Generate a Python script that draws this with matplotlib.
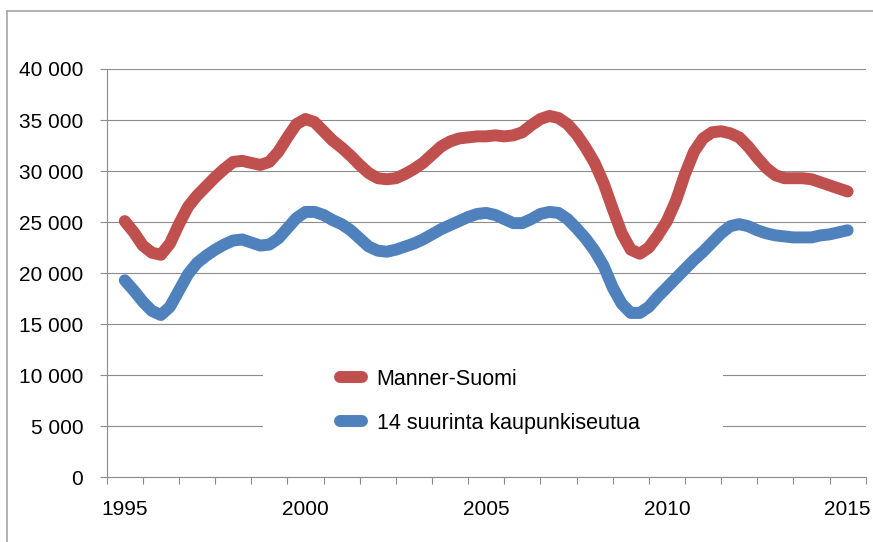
import numpy as np
import matplotlib
matplotlib.use("Agg")
import matplotlib.pyplot as plt
from matplotlib.lines import Line2D
from matplotlib.patches import Rectangle

plt.rcParams['font.family'] = ['Liberation Sans', 'DejaVu Sans']

# quarterly values 1995Q1 .. 2015Q1
quarters = 1995 + np.arange(81) / 4

manner_suomi = [
    25100, 24000, 22700, 22000, 21800, 22900, 24800, 26500,
    27600, 28500, 29400, 30200, 30900, 31000, 30800, 30600,
    30900, 31900, 33300, 34600, 35100, 34800, 33900, 33000,
    32300, 31500, 30600, 29800, 29300, 29200, 29300, 29700,
    30200, 30800, 31600, 32400, 32900, 33200, 33300, 33400,
    33400, 33500, 33400, 33500, 33800, 34500, 35100, 35400,
    35200, 34600, 33600, 32300, 30800, 28800, 26300, 23900,
    22300, 21900, 22500, 23700, 25100, 27100, 29700, 31900,
    33200, 33800, 33900, 33700, 33300, 32400, 31300, 30300,
    29600, 29300, 29300, 29300, 29200, 28900, 28600, 28300,
    28000,
]

kaupunkiseudut = [
    19300, 18300, 17200, 16300, 15900, 16700, 18300, 19900,
    21000, 21700, 22300, 22800, 23200, 23300, 23000, 22700,
    22800, 23400, 24400, 25400, 26000, 26000, 25700, 25200,
    24800, 24200, 23400, 22600, 22200, 22100, 22300, 22600,
    22900, 23300, 23800, 24300, 24700, 25100, 25500, 25800,
    25900, 25700, 25300, 24900, 24900, 25300, 25800, 26000,
    25900, 25300, 24400, 23400, 22200, 20700, 18600, 17000,
    16100, 16100, 16700, 17700, 18600, 19500, 20400, 21300,
    22100, 23000, 23900, 24600, 24800, 24600, 24200, 23900,
    23700, 23600, 23500, 23500, 23500, 23700, 23800, 24000,
    24200,
]

series_names = ['Manner-Suomi', '14 suurinta kaupunkiseutua']
series_colors = ['#C0504D', '#4F81BD']

year_labels = [1995, 2000, 2005, 2010, 2015]
y_ticks = [0, 5000, 10000, 15000, 20000, 25000, 30000, 35000, 40000]
y_tick_labels = ['0', '5 000', '10 000', '15 000', '20 000', '25 000',
                 '30 000', '35 000', '40 000']

W, H = 873, 542
fig = plt.figure(figsize=(W / 100, H / 100), dpi=100)
ax = fig.add_axes([106.7 / W, 1 - 477.3 / H, 759 / W, 408.3 / H])

grid_col = '#8C8C8C'

for vals, name, col in zip([manner_suomi, kaupunkiseudut], series_names, series_colors):
    ax.plot(quarters, vals, color=col, lw=8.6, label=name,
            solid_capstyle='round', solid_joinstyle='round', zorder=3)

ax.set_xlim(1994.5, 2015.5)
ax.set_ylim(0, 40000)

ax.set_yticks(y_ticks)
ax.set_yticklabels(y_tick_labels)
ax.yaxis.grid(True, color=grid_col, lw=0.8)
ax.set_axisbelow(True)

# tick marks between the years, labels centred on the years
ax.set_xticks(np.arange(1994.5, 2016, 1.0))
ax.set_xticklabels([])
ax.set_xticks(year_labels, minor=True)
ax.set_xticklabels([str(y) for y in year_labels], minor=True)

ax.tick_params(axis='y', length=6.7 * 0.72, width=0.8, color=grid_col,
               pad=12, labelsize=15)
ax.tick_params(axis='x', which='major', length=7 * 0.72, width=0.8,
               color=grid_col)
ax.tick_params(axis='x', which='minor', length=0, pad=16, labelsize=15)

for s in ['top', 'right']:
    ax.spines[s].set_visible(False)
for s in ['left', 'bottom']:
    ax.spines[s].set_color(grid_col)
    ax.spines[s].set_linewidth(0.8)

# white legend area that hides the gridlines
ax.add_patch(Rectangle((0.206, 0.055), 0.606, 0.269, transform=ax.transAxes,
                       facecolor='white', edgecolor='none', zorder=2))

ax.legend(loc='upper left', bbox_to_anchor=(340 / W, 1 - 369 / H),
          bbox_transform=fig.transFigure, frameon=False, fontsize=15.5,
          handlelength=1.0, handletextpad=0.7, labelspacing=1.05,
          borderpad=0, borderaxespad=0)

# outer chart frame (cut at right and bottom)
fig.add_artist(Line2D([7.3 / W, 7.3 / W], [0, 1 - 10.7 / H], color='#A6A6A6', lw=1.2))
fig.add_artist(Line2D([7.3 / W, 1], [1 - 10.7 / H, 1 - 10.7 / H], color='#A6A6A6', lw=1.2))

fig.savefig('out.png', dpi=100)
